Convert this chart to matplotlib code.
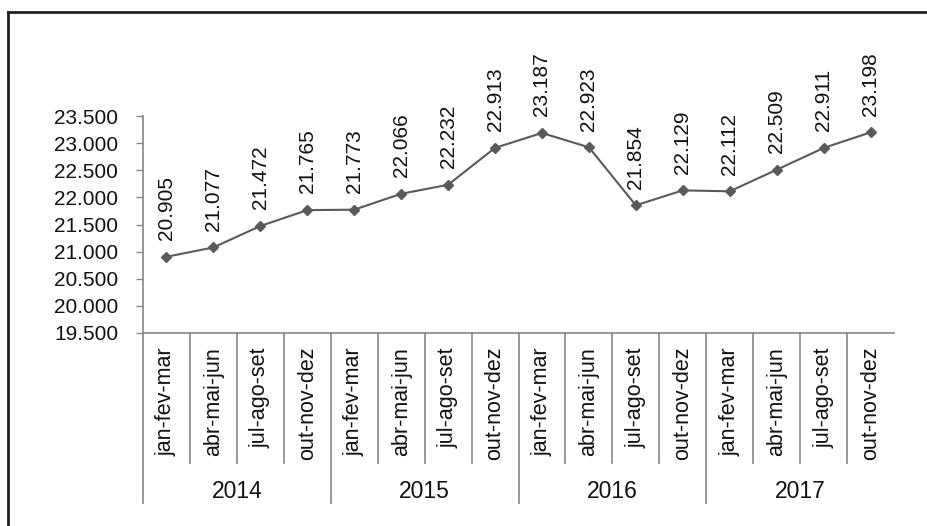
import matplotlib
matplotlib.use("Agg")
import matplotlib.pyplot as plt
from matplotlib.lines import Line2D

plt.rcParams['font.family'] = ['Liberation Sans', 'DejaVu Sans']

years = ["2014", "2015", "2016", "2017"]
quarters = ["jan-fev-mar", "abr-mai-jun", "jul-ago-set", "out-nov-dez"]
values = [20905, 21077, 21472, 21765,
          21773, 22066, 22232, 22913,
          23187, 22923, 21854, 22129,
          22112, 22509, 22911, 23198]
yticks = [19500, 20000, 20500, 21000, 21500, 22000, 22500, 23000, 23500]


def fmt(v):
    return f"{v:,}".replace(",", ".")


W, H = 927, 526
fig = plt.figure(figsize=(W / 100, H / 100), dpi=100)
ax = fig.add_axes([143 / W, 193 / H, (894 - 143) / W, (333 - 116) / H])

n = len(values)
xs = [i + 0.5 for i in range(n)]
line_col = "#5a5a5a"
txt_col = "#111111"
ax.plot(xs, values, color=line_col, lw=1.5, marker="D", markersize=5.5,
        markerfacecolor=line_col, markeredgecolor=line_col, clip_on=False)

for x, v in zip(xs, values):
    ax.annotate(fmt(v), (x, v), xytext=(0, 12), textcoords="offset points",
                rotation=90, ha="center", va="bottom", fontsize=15,
                color=txt_col)

ax.set_xlim(0, n)
ax.set_ylim(19500, 23500)
ax.set_yticks(yticks)
ax.set_yticklabels([fmt(t) for t in yticks], fontsize=15, color=txt_col)
ax.tick_params(axis="y", length=5, width=1, color="#868686", pad=13)
ax.set_xticks([])

for s in ["top", "right"]:
    ax.spines[s].set_visible(False)
for s in ["left", "bottom"]:
    ax.spines[s].set_color("#868686")
    ax.spines[s].set_linewidth(1.2)

trans = ax.get_xaxis_transform()
ah = 333 - 116
# category labels and separators
for i in range(n):
    q = quarters[i % 4]
    ax.text(i + 0.5, -14 / ah, q, transform=trans, rotation=90,
            ha="center", va="top", fontsize=15.5, color=txt_col)
for i in range(n):
    if i % 4 == 0:
        y0 = -170 / ah
    else:
        y0 = -130 / ah
    ax.plot([i, i], [0, y0], transform=trans, color="#868686", lw=1.2,
            clip_on=False)
for k, yr in enumerate(years):
    ax.text(k * 4 + 2, -158 / ah, yr, transform=trans, ha="center",
            va="center", fontsize=16.5, color=txt_col)

# frame lines (top and left)
fig.add_artist(Line2D([8 / W, 1.0], [1 - 12 / H, 1 - 12 / H],
                      transform=fig.transFigure, color="#222222", lw=2))
fig.add_artist(Line2D([8 / W, 8 / W], [0, 1 - 12 / H],
                      transform=fig.transFigure, color="#222222", lw=2))

fig.savefig("out.png", dpi=100)
